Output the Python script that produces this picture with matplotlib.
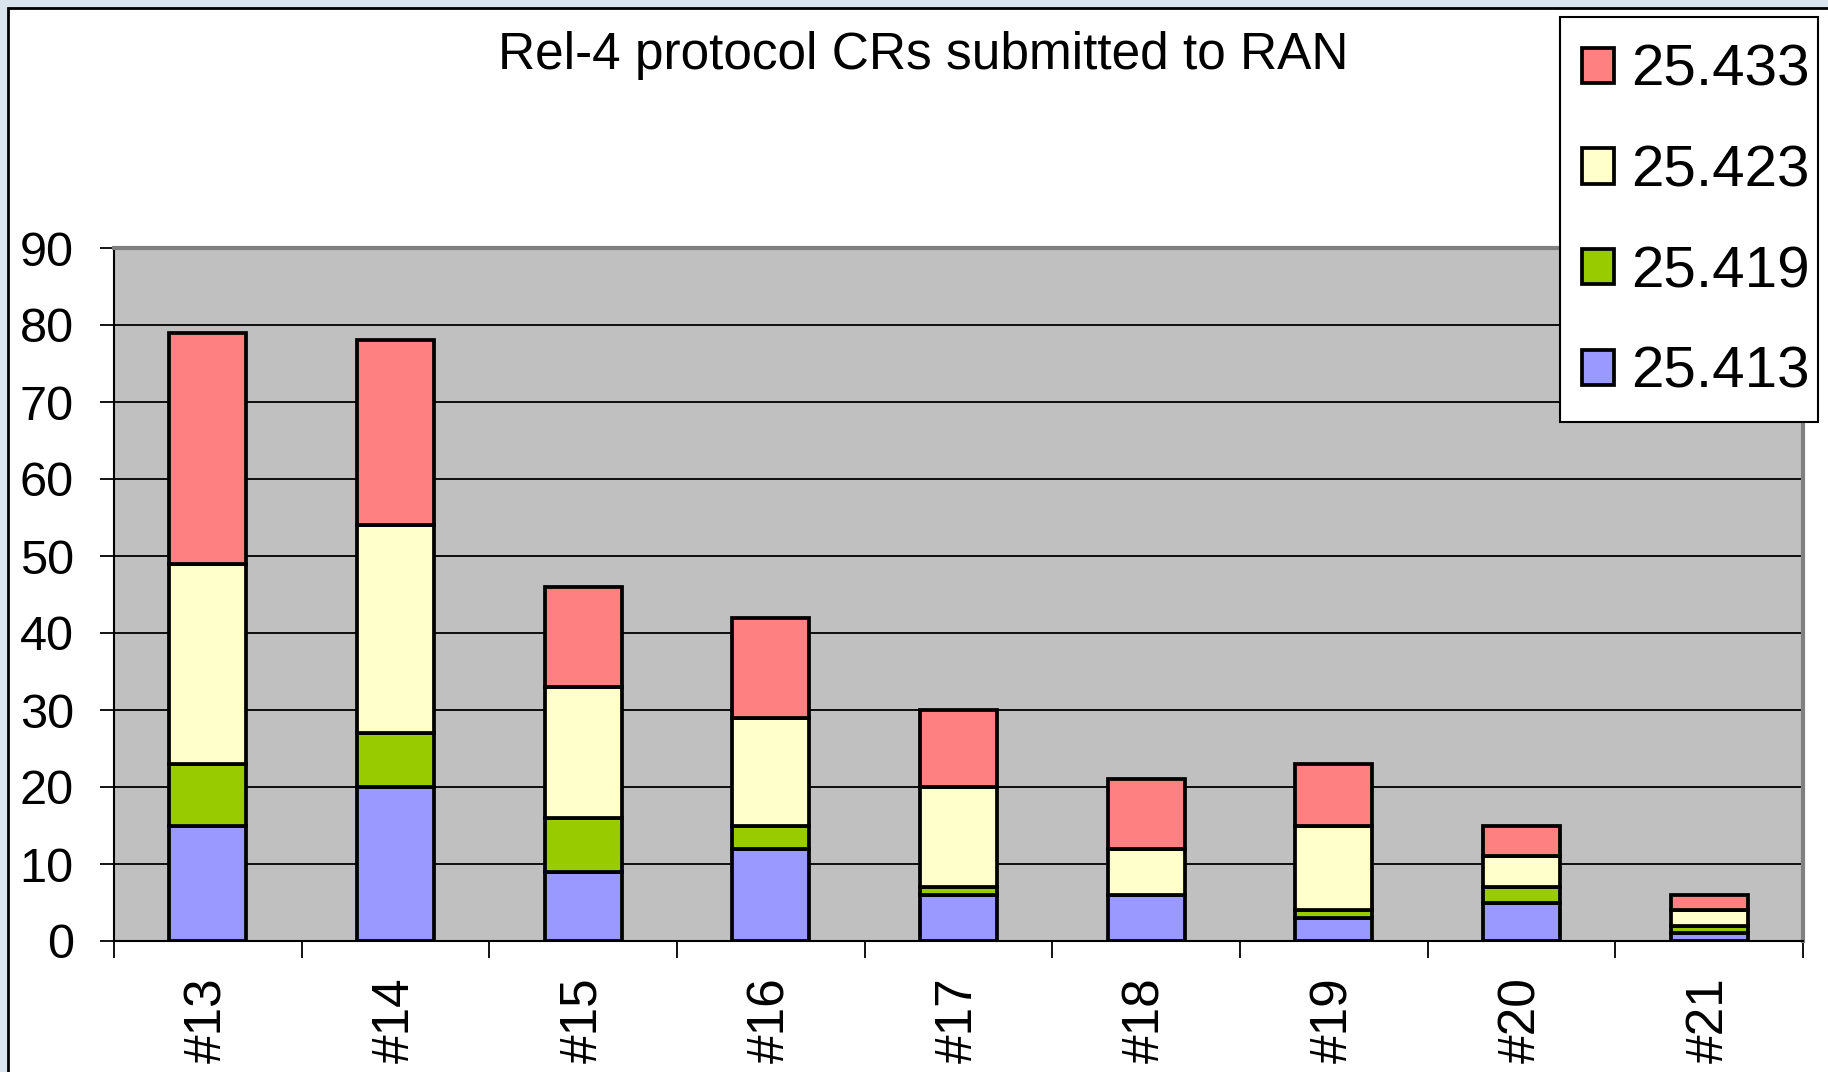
import numpy as np
import matplotlib
matplotlib.use('Agg')
import matplotlib.pyplot as plt
from matplotlib.patches import Rectangle

plt.rcParams['font.family'] = ['Liberation Sans', 'DejaVu Sans']

# Dane
meetings = ['#13', '#14', '#15', '#16', '#17', '#18', '#19', '#20', '#21']
spec_413 = [15, 20, 9, 12, 6, 6, 3, 5, 1]
spec_419 = [8, 7, 7, 3, 1, 0, 1, 2, 1]
spec_423 = [26, 27, 17, 14, 13, 6, 11, 4, 2]
spec_433 = [30, 24, 13, 13, 10, 9, 8, 4, 2]

series = [('25.413', spec_413, '#9999ff'),
          ('25.419', spec_419, '#99cc00'),
          ('25.423', spec_423, '#ffffcc'),
          ('25.433', spec_433, '#ff8080')]
yticks = list(range(0, 100, 10))

W, H = 1828, 1072
fig = plt.figure(figsize=(W / 100, H / 100), dpi=100)
fig.patch.set_facecolor('#dae4ef')
# biale tlo wykresu z ramka
frame = Rectangle((8 / W, -0.1), 1.1, 1 - 8 / H + 0.1,
                  transform=fig.transFigure, facecolor='white',
                  edgecolor='black', linewidth=2, zorder=-10)
fig.add_artist(frame)

ax = fig.add_axes([114 / W, 1 - 941 / H, (1803 - 114) / W, (941 - 248) / H])
ax.set_zorder(1)
ax.set_facecolor('#c0c0c0')

x = np.arange(len(meetings))
bottom = np.zeros(len(meetings))
handles = []
for name, vals, color in series:
    vals = np.array(vals, dtype=float)
    ax.bar(x, vals, width=0.41, bottom=bottom, color=color,
           edgecolor='black', linewidth=2.7, zorder=3)
    bottom += vals
    handles.append(Rectangle((0, 0), 1, 1, facecolor=color,
                             edgecolor='black', linewidth=2.7))

ax.set_xlim(-0.5, len(meetings) - 0.5)
ax.set_ylim(0, 90)
ax.set_yticks(yticks)
ax.set_yticklabels([str(v) for v in yticks], fontsize=35)
ax.tick_params(axis='y', length=10, width=1.3, pad=19, direction='out')
ax.yaxis.grid(True, color='black', linewidth=1.3, zorder=1)
ax.set_axisbelow(True)

# podzialki miedzy slupkami, etykiety na srodku
ax.set_xticks(np.arange(len(meetings) + 1) - 0.5)
ax.set_xticklabels([])
ax.tick_params(axis='x', which='major', length=12, width=1.3)
ax.set_xticks(x, minor=True)
ax.set_xticklabels(meetings, minor=True, rotation=90, fontsize=37, va='top')
ax.tick_params(axis='x', which='minor', length=0, pad=26)

ax.spines['top'].set_color('#808080')
ax.spines['top'].set_linewidth(3)
ax.spines['right'].set_color('#808080')
ax.spines['right'].set_linewidth(3)
ax.spines['left'].set_linewidth(1.5)
ax.spines['bottom'].set_linewidth(1.5)

fig.text(0.505, 1 - 55 / H, 'Rel-4 protocol CRs submitted to RAN',
         fontsize=37, ha='center', va='center')

# ramka legendy
leg_box = Rectangle((1560 / W, 1 - 422 / H), (1818 - 1560) / W, (422 - 17) / H,
                    transform=fig.transFigure, facecolor='white',
                    edgecolor='black', linewidth=1.5, zorder=4)
fig.add_artist(leg_box)

names = [s[0] for s in series]
leg = fig.legend(handles[::-1], names[::-1], loc='upper left',
                 bbox_to_anchor=(1582 / W, 1 - 44 / H),
                 fontsize=42, frameon=False,
                 handlelength=0.55, handleheight=0.55, handletextpad=0.3,
                 labelspacing=0.8, borderpad=0, borderaxespad=0)
leg.set_zorder(5)

fig.savefig('out.png', dpi=100, facecolor=fig.get_facecolor())
